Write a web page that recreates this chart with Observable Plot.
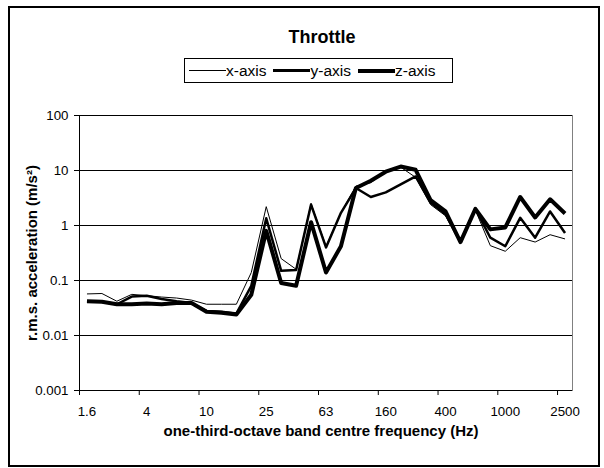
<!DOCTYPE html>
<html><head><meta charset="utf-8">
<script src="https://cdn.jsdelivr.net/npm/d3@7"></script>
<script src="https://cdn.jsdelivr.net/npm/@observablehq/plot@0.6"></script>
<style>
body{margin:0;background:#fff;font-family:"Liberation Sans",Arial,sans-serif;}
#wrap{position:relative;width:604px;height:468px;overflow:hidden;background:#fff;}
#chart{position:absolute;left:0;top:0;}
#border{position:absolute;left:8px;top:6px;width:592px;height:461px;border:2px solid #000;box-sizing:border-box;pointer-events:none;}
#title{position:absolute;left:222px;width:200px;top:28px;text-align:center;font-weight:bold;font-size:18px;line-height:18px;color:#000;}
#legend{position:absolute;left:184px;top:58px;width:269px;height:25px;border:1px solid #000;box-sizing:border-box;display:flex;align-items:center;padding-left:4px;font-size:15.5px;color:#000;background:#fff;}
.item{display:flex;align-items:center;margin-right:7px;white-space:nowrap;}
.swatch{width:37px;background:#000;}
</style></head>
<body>
<div id="wrap">
  <div id="chart"></div>
  <div id="title"></div>
  <div id="legend"></div>
  <div id="border"></div>
</div>
<script>
const freq = ["1.6","2","2.5","3.15","4","5","6.3","8","10","12.5","16","20","25","31.5","40","50","63","80","100","125","160","200","250","315","400","500","630","800","1000","1250","1600","2000","2500"];
const xAxisVals = [0.057,0.058,0.042,0.056,0.053,0.050,0.048,0.044,0.037,0.037,0.037,0.14,2.2,0.25,0.16,2.5,0.42,1.7,5.2,6.0,9.5,11.5,7.5,2.4,1.5,0.5,1.9,0.43,0.34,0.6,0.5,0.68,0.57];
const yAxisVals = [0.041,0.041,0.037,0.051,0.053,0.046,0.042,0.039,0.028,0.027,0.025,0.08,1.35,0.15,0.155,2.4,0.4,1.7,4.8,3.3,4.0,5.6,7.8,2.6,1.6,0.5,2.0,0.6,0.42,1.38,0.6,1.8,0.73];
const zAxisVals = [0.042,0.041,0.037,0.037,0.038,0.037,0.039,0.039,0.027,0.026,0.024,0.055,0.8,0.09,0.08,1.15,0.14,0.42,4.8,6.5,9.5,11.8,10.3,2.9,1.8,0.5,2.0,0.85,0.92,3.3,1.4,3.0,1.65];
const seriesNames = ["x-axis","y-axis","z-axis"];
const yTicks = [0.001,0.01,0.1,1,10,100];
const yTickLabels = ["0.001","0.01","0.1","1","10","100"];
const xTickLabels = ["1.6","4","10","25","63","160","400","1000","2500"];
const titleText = "Throttle";
const xTitle = "one-third-octave band centre frequency (Hz)";
const yTitle = "r.m.s. acceleration (m/s²)";

const seriesVals = [xAxisVals, yAxisVals, zAxisVals];
const widths = [1, 2.5, 4];
const rows = seriesNames.flatMap((s, k) => seriesVals[k].map((v, i) => ({series: s, i: i + 0.5, v})));
const catPos = xTickLabels.map(l => freq.indexOf(l));

const plot = Plot.plot({
  width: 604, height: 468,
  marginTop: 115, marginBottom: 78, marginLeft: 79, marginRight: 32,
  style: {fontFamily: '"Liberation Sans", Arial, sans-serif', fontSize: "13.3px", background: "transparent", color: "#000"},
  x: {type: "linear", domain: [0, freq.length]},
  y: {type: "log", domain: [0.001, 100]},
  marks: [
    Plot.frame({stroke: "#808080"}),
    Plot.ruleY(yTicks.slice(1), {stroke: "#000", strokeWidth: 1}),
    Plot.axisY({ticks: yTicks, tickFormat: d => yTickLabels[yTicks.indexOf(d)], tickSize: 5, tickPadding: 6, label: null}),
    Plot.axisX({ticks: catPos, tickFormat: () => "", tickSize: 5, label: null}),
    Plot.axisX({ticks: catPos.map(p => p + 0.5), tickFormat: d => freq[Math.floor(d)], tickSize: 0, tickPadding: 16, label: null}),
    Plot.ruleX([0], {stroke: "#000"}),
    Plot.ruleY([0.001], {stroke: "#000"}),
    ...seriesNames.map((s, k) => Plot.line(rows.filter(r => r.series === s), {x: "i", y: "v", stroke: "#000", strokeWidth: widths[k], strokeLinejoin: "round", strokeLinecap: "butt"})),
    Plot.text([xTitle], {text: d => d, frameAnchor: "bottom", lineAnchor: "middle", textAnchor: "middle", dy: 41, dx: -5, fontWeight: "bold", fontSize: 15}),
    Plot.text([yTitle], {text: d => d, frameAnchor: "left", lineAnchor: "middle", textAnchor: "middle", dx: -47, rotate: -90, fontWeight: "bold", fontSize: 15})
  ]
});
document.getElementById("chart").appendChild(plot);
document.getElementById("title").textContent = titleText;
const legend = document.getElementById("legend");
seriesNames.forEach((s, k) => {
  const item = document.createElement("div");
  item.className = "item";
  const sw = document.createElement("span");
  sw.className = "swatch";
  sw.style.height = widths[k] + "px";
  const t = document.createElement("span");
  t.textContent = s;
  item.appendChild(sw); item.appendChild(t);
  legend.appendChild(item);
});
</script>
</body></html>
